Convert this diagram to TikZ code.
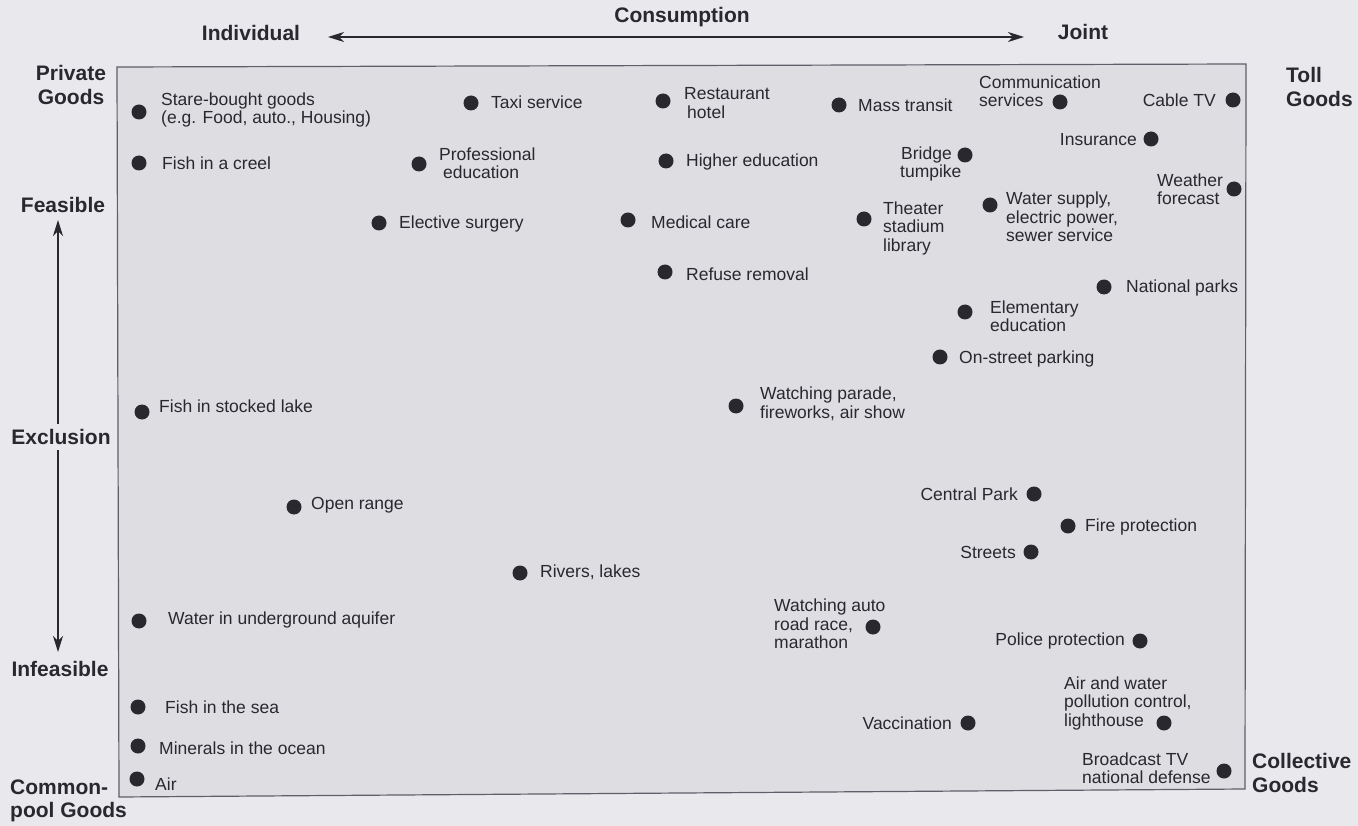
\documentclass[tikz,border=0pt]{standalone}
\usepackage{fontspec}
\setmainfont{Liberation Sans}
\usetikzlibrary{arrows.meta}
\definecolor{bgout}{RGB}{233,232,236}
\definecolor{bgin}{RGB}{222,221,226}
\definecolor{ink}{RGB}{40,40,46}
\definecolor{frm}{RGB}{95,95,105}
\begin{document}
\begin{tikzpicture}[x=1pt,y=-1pt,
  dot/.style={circle, fill=ink, inner sep=0pt, minimum size=15pt},
  lab/.style={font=\fontsize{17.5}{18.5}\selectfont, text=ink, inner sep=0pt, align=left},
  blab/.style={font=\fontsize{21}{23.5}\selectfont\bfseries, text=ink, inner sep=0pt},
  axis/.style={draw=ink, line width=1.2pt, {Stealth[length=16pt,width=10pt,inset=5pt]}-{Stealth[length=16pt,width=10pt,inset=5pt]}},
  frame/.style={draw=frm, line width=1.2pt, fill=bgin}]
\fill[bgout] (0,0) rectangle (1358,826);
\useasboundingbox (0,0) rectangle (1358,826);
% frame
\coordinate (ftl) at (117,67);
\coordinate (ftr) at (1246,64);
\coordinate (fbr) at (1245,789);
\coordinate (fbl) at (119,797);
\draw[frame] (ftl) -- (ftr) -- (fbr) -- (fbl) -- cycle;
% axes
\coordinate (hl) at (328,37);
\coordinate (hr) at (1024,37);
\draw[axis] (hl) -- (hr);
\coordinate (vt) at (58,220);
\coordinate (vb) at (58,652);
\draw[axis] (vt) -- (vb);
% axis labels
\node[blab] (cons) at (682,17) {Consumption};
\node[blab] (ind) at (251,33) {Individual};
\node[blab] (jt) at (1083,32) {Joint};
\node[blab, align=center] (pg) at (71,85) {Private\\Goods};
\node[blab] (fe) at (63,205) {Feasible};
\node[blab, fill=bgout, inner ysep=5pt, inner xsep=1pt] (ex) at (61,437) {Exclusion};
\node[blab] (inf) at (60,669) {Infeasible};
\node[blab, align=left, anchor=west] (cp) at (10,801) {Common-\\pool Goods};
\node[blab, align=left, anchor=west] (tg) at (1286,87) {Toll\\Goods};
\node[blab, align=left, anchor=west] (cg) at (1252,773) {Collective\\Goods};
% items
\node[dot] (d1) at (139,112) {};
\node[lab, anchor=west] (l1) at (161,110) {Stare-bought goods\\(e.g. Food, auto., Housing)};
\node[dot] (d2) at (471,103) {};
\node[lab, anchor=west] (l2) at (491,102) {Taxi service};
\node[dot] (d3) at (663,101) {};
\node[lab, anchor=west] (l3) at (684,103) {Restaurant\\\hspace{3pt}hotel};
\node[dot] (d4) at (839,105) {};
\node[lab, anchor=west] (l4) at (858,105) {Mass transit};
\node[dot] (d5) at (1060,102) {};
\node[lab, anchor=west] (l5) at (979,91) {Communication\\services};
\node[dot] (d6) at (1233,100) {};
\node[lab, anchor=east] (l6) at (1216,100) {Cable TV};
\node[dot] (d7) at (1151,139) {};
\node[lab, anchor=east] (l7) at (1137,140) {Insurance};
\node[dot] (d8) at (139,163) {};
\node[lab, anchor=west] (l8) at (162,163) {Fish in a creel};
\node[dot] (d9) at (419,164) {};
\node[lab, anchor=west] (l9) at (439,163) {Professional\\\hspace{4pt}education};
\node[dot] (d10) at (666,161) {};
\node[lab, anchor=west] (l10) at (686,162) {Higher education};
\node[dot] (d11) at (965,155) {};
\node[lab, anchor=west] (l11) at (900,164) {\hspace{1pt}Bridge\\tumpike};
\node[dot] (d12) at (1234,189) {};
\node[lab, anchor=west] (l12) at (1157,189) {Weather\\forecast};
\node[dot] (d13) at (379,223) {};
\node[lab, anchor=west] (l13) at (399,224) {Elective surgery};
\node[dot] (d14) at (628,220) {};
\node[lab, anchor=west] (l14) at (651,222) {Medical care};
\node[dot] (d15) at (864,219) {};
\node[lab, anchor=west] (l15) at (883,228) {Theater\\stadium\\library};
\node[dot] (d16) at (990,205) {};
\node[lab, anchor=west] (l16) at (1006,217) {Water supply,\\electric power,\\sewer service};
\node[dot] (d17) at (665,272) {};
\node[lab, anchor=west] (l17) at (686,274) {Refuse removal};
\node[dot] (d18) at (1104,287) {};
\node[lab, anchor=west] (l18) at (1126,288) {National parks};
\node[dot] (d19) at (965,312) {};
\node[lab, anchor=west] (l19) at (990,316) {Elementary\\education};
\node[dot] (d20) at (940,357) {};
\node[lab, anchor=west] (l20) at (959,359) {On-street parking};
\node[dot] (d21) at (736,406) {};
\node[lab, anchor=west] (l21) at (760,404) {Watching parade,\\fireworks, air show};
\node[dot] (d22) at (142,412) {};
\node[lab, anchor=west] (l22) at (159,406) {Fish in stocked lake};
\node[dot] (d23) at (294,507) {};
\node[lab, anchor=west] (l23) at (311,505) {Open range};
\node[dot] (d24) at (1034,494) {};
\node[lab, anchor=east] (l24) at (1018,494) {Central Park};
\node[dot] (d25) at (1068,526) {};
\node[lab, anchor=west] (l25) at (1085,527) {Fire protection};
\node[dot] (d26) at (1031,552) {};
\node[lab, anchor=east] (l26) at (1016,552) {Streets};
\node[dot] (d27) at (520,573) {};
\node[lab, anchor=west] (l27) at (540,572) {Rivers, lakes};
\node[dot] (d28) at (139,621) {};
\node[lab, anchor=west] (l28) at (168,620) {Water in underground aquifer};
\node[dot] (d29) at (873,627) {};
\node[lab, anchor=west] (l29) at (774,624) {Watching auto\\road race,\\marathon};
\node[dot] (d30) at (1140,641) {};
\node[lab, anchor=east] (l30) at (1125,641) {Police protection};
\node[dot] (d31) at (138,707) {};
\node[lab, anchor=west] (l31) at (165,707) {Fish in the sea};
\node[dot] (d32) at (968,723) {};
\node[lab, anchor=east] (l32) at (952,723) {Vaccination};
\node[dot] (d33) at (1164,723) {};
\node[lab, anchor=west] (l33) at (1064,703) {Air and water\\pollution control,\\lighthouse};
\node[dot] (d34) at (138,746) {};
\node[lab, anchor=west] (l34) at (159,748) {Minerals in the ocean};
\node[dot] (d35) at (1224,771) {};
\node[lab, anchor=west] (l35) at (1082,768) {Broadcast TV\\national defense};
\node[dot] (d36) at (137,779) {};
\node[lab, anchor=west] (l36) at (155,784) {Air};
\end{tikzpicture}
\end{document}
